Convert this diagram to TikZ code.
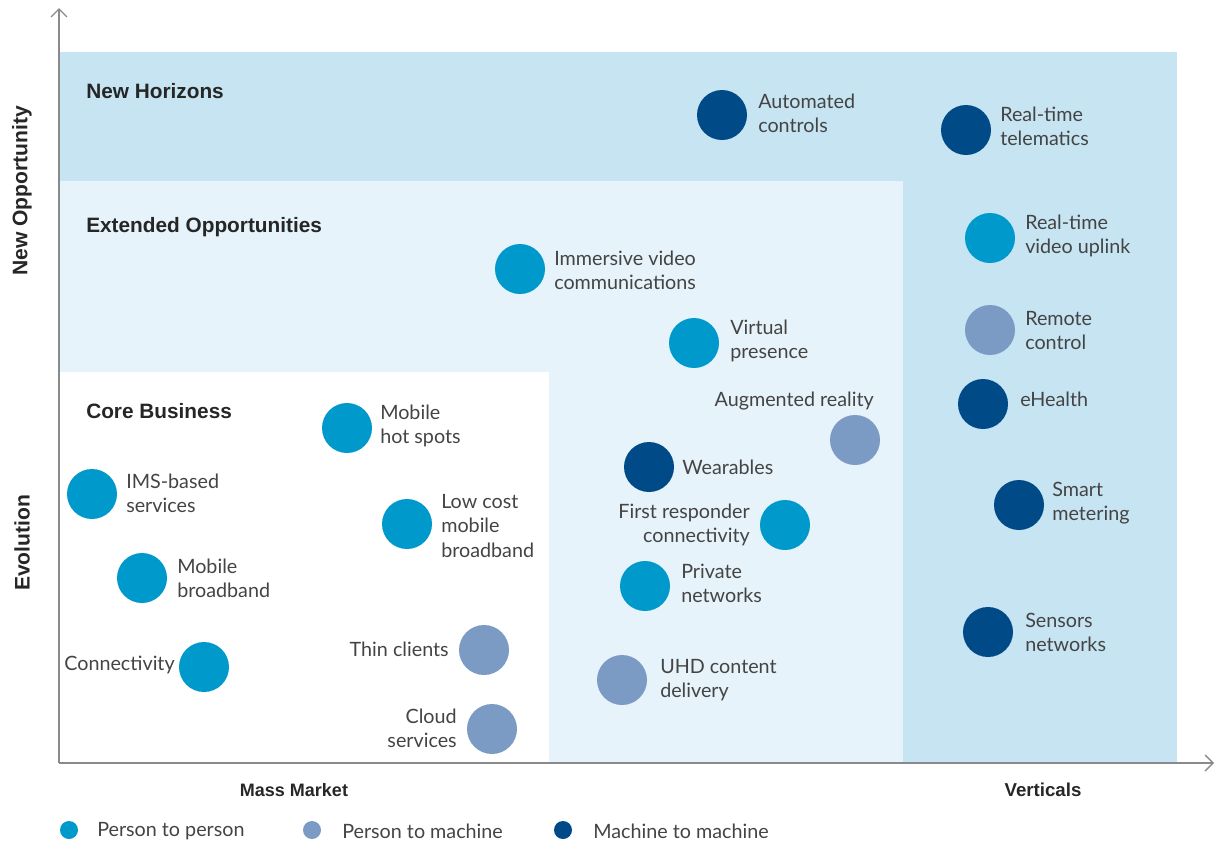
\documentclass[tikz,border=0pt]{standalone}
\usepackage{fontspec}
\usetikzlibrary{arrows.meta}
\setmainfont{Lato}
\newfontfamily\boldlab{Liberation Sans}
\definecolor{ptp}{HTML}{0099CC}
\definecolor{ptm}{HTML}{7B9AC4}
\definecolor{mtm}{HTML}{004B87}
\definecolor{bandA}{HTML}{C6E4F2}
\definecolor{bandB}{HTML}{E6F3FA}
\definecolor{txt}{HTML}{444444}
\definecolor{axisc}{HTML}{8A8A8A}
\tikzset{
  dot/.style={circle,minimum size=37.5pt,inner sep=0pt},
  pp/.style={dot,fill=ptp},
  pm/.style={dot,fill=ptm},
  mm/.style={dot,fill=mtm},
  lab/.style={text=txt,font=\fontsize{14.8}{18}\selectfont,align=left,inner sep=0pt},
  labr/.style={lab,align=right},
  zone/.style={font=\boldlab\bfseries\fontsize{15.6}{18}\selectfont,text=black!85,anchor=west,inner sep=0pt},
  axlab/.style={font=\boldlab\bfseries\fontsize{15.8}{18}\selectfont,text=black!85,inner sep=0pt},
  legdot/.style={circle,minimum size=13.5pt,inner sep=0pt},
  legtxt/.style={text=txt,font=\fontsize{14.8}{18}\selectfont,anchor=west,inner sep=0pt},
  axarrow/.style={axisc,line width=1pt,-{Straight Barb[length=6pt,width=12pt]}},
}
\begin{document}
\begin{tikzpicture}[x=0.75pt,y=-0.75pt]
\useasboundingbox (0,0) rectangle (1221,843);
% zones
\fill[bandB] (59,181) rectangle (903,372);
\fill[bandB] (549,372) rectangle (903,763);
\fill[bandA] (59,52) rectangle (1177,181);
\fill[bandA] (903,181) rectangle (1177,763);
% axes
\coordinate (o) at (59,763);
\coordinate (ytop) at (59,8);
\coordinate (xend) at (1214,763);
\draw[axarrow] (o) -- (ytop);
\draw[axarrow] (o) -- (xend);
% zone labels
\node[zone] (nh) at (86,91) {New Horizons};
\node[zone] (eo) at (86,227) {Extended Opportunities};
\node[zone] (cb) at (86,411) {Core Business};
% axis labels
\node[axlab,rotate=90] (ynew) at (22,191) {New Opportunity};
\node[axlab,rotate=90] (yevo) at (22,543) {Evolution};
\node[axlab,font=\boldlab\bfseries\fontsize{13.5}{16}\selectfont] (xmm) at (294,790) {Mass Market};
\node[axlab,font=\boldlab\bfseries\fontsize{14}{16}\selectfont] (xv) at (1043,790) {Verticals};
% dots
\node[mm] (ac) at (722,115) {};
\node[lab,anchor=west] (acl) at (758,113) {Automated\\controls};
\node[mm] (rtt) at (966,130) {};
\node[lab,anchor=west] (rttl) at (1000,126) {Real-time\\telematics};
\node[pp] (rtv) at (990,238) {};
\node[lab,anchor=west] (rtvl) at (1025,236) {Real-time\\video uplink};
\node[pm] (rc) at (990,330) {};
\node[lab,anchor=west] (rcl) at (1025,331) {Remote\\control};
\node[mm] (eh) at (983,404) {};
\node[lab,anchor=west] (ehl) at (1020,399) {eHealth};
\node[mm] (sm) at (1019,505) {};
\node[lab,anchor=west] (sml) at (1052,503) {Smart\\metering};
\node[mm] (sn) at (988,632) {};
\node[lab,anchor=west] (snl) at (1025,632) {Sensors\\networks};
\node[pp] (iv) at (520,269) {};
\node[lab,anchor=west] (ivl) at (554,270) {Immersive video\\communications};
\node[pp] (vp) at (694,343) {};
\node[lab,anchor=west] (vpl) at (730,341) {Virtual\\presence};
\node[pm] (ar) at (855,440) {};
\node[lab,anchor=east] (arl) at (874,401) {Augmented reality};
\node[mm] (we) at (649,467) {};
\node[lab,anchor=west] (wel) at (682,467) {Wearables};
\node[pp] (fr) at (785,525) {};
\node[labr,anchor=east] (frl) at (750,525) {First responder\\connectivity};
\node[pp] (pn) at (645,586) {};
\node[lab,anchor=west] (pnl) at (681,583) {Private\\networks};
\node[pm] (uhd) at (622,680) {};
\node[lab,anchor=west] (uhdl) at (660,680) {UHD content\\delivery};
\node[pp] (mh) at (347,428) {};
\node[lab,anchor=west] (mhl) at (380,426) {Mobile\\hot spots};
\node[pp] (ims) at (92,494) {};
\node[lab,anchor=west] (imsl) at (126,493) {IMS-based\\services};
\node[pp] (lc) at (407,524) {};
\node[lab,anchor=west] (lcl) at (441,526) {Low cost\\mobile\\broadband};
\node[pp] (mb) at (142,578) {};
\node[lab,anchor=west] (mbl) at (177,578) {Mobile\\broadband};
\node[pp] (co) at (204,667) {};
\node[lab,anchor=east] (col) at (175,665) {Connectivity};
\node[pm] (tc) at (484,650) {};
\node[lab,anchor=east] (tcl) at (449,649) {Thin clients};
\node[pm] (cs) at (492,729) {};
\node[labr,anchor=east] (csl) at (457,728) {Cloud\\services};
% legend
\node[legdot,fill=ptp] (lg1) at (69,830) {};
\node[legtxt] (lg1t) at (97,831) {Person to person};
\node[legdot,fill=ptm] (lg2) at (312,830) {};
\node[legtxt] (lg2t) at (342,831) {Person to machine};
\node[legdot,fill=mtm] (lg3) at (563,830) {};
\node[legtxt] (lg3t) at (593,831) {Machine to machine};
\end{tikzpicture}
\end{document}
